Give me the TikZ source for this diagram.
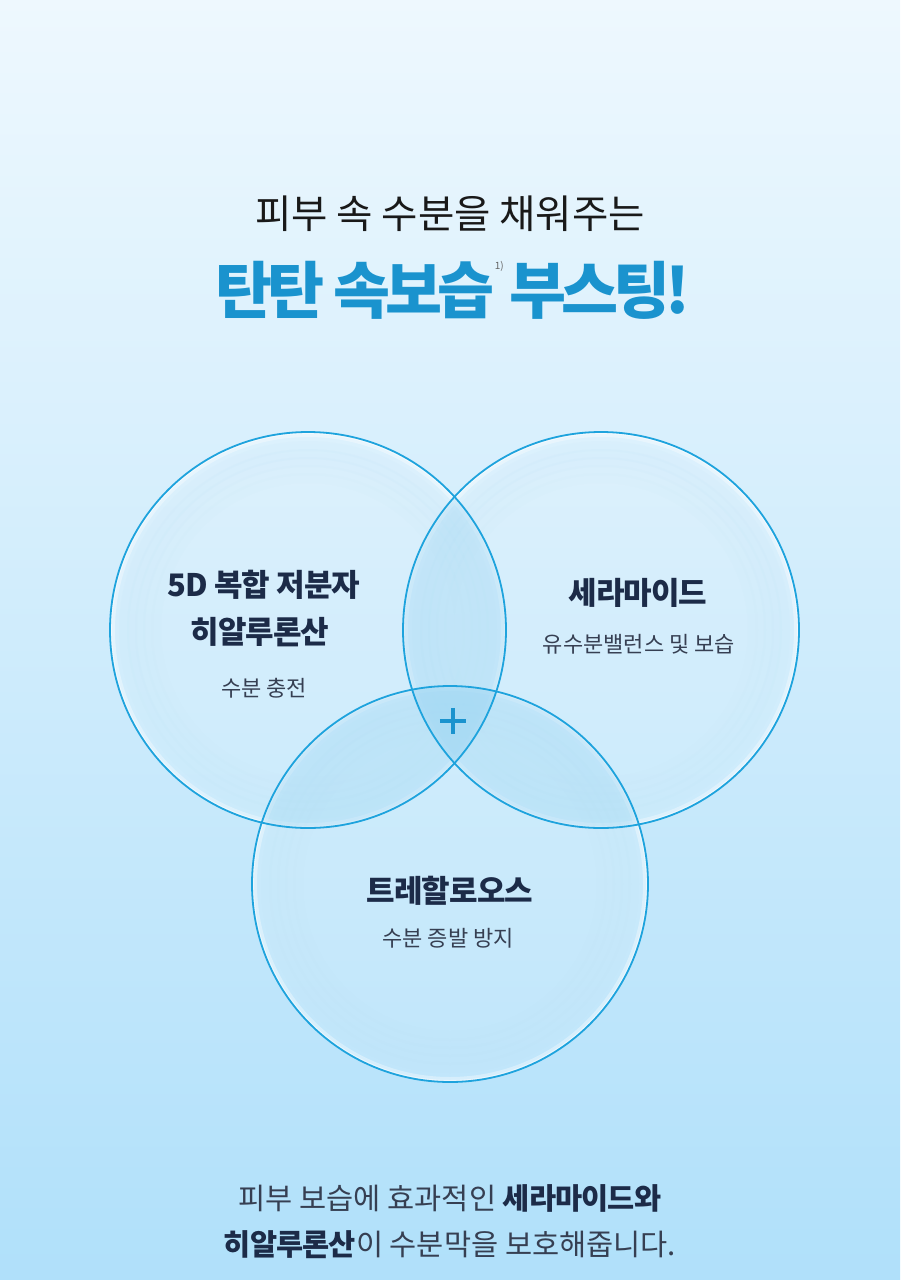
\documentclass[tikz,border=0pt]{standalone}
\usepackage{fontspec}
\newfontfamily\kr{Noto Sans CJK KR}
\newfontfamily\krb{Noto Sans CJK KR Bold}
\newfontfamily\krhead{Noto Sans CJK KR Black}[LetterSpace=-3]
\newfontfamily\krblack{Noto Sans CJK KR Black}[LetterSpace=-8]
\definecolor{bgtop}{HTML}{EEF8FE}
\definecolor{bgmid}{HTML}{DCF1FC}
\definecolor{bgbot}{HTML}{B0E0FA}
\definecolor{ringblue}{HTML}{1EA3DD}
\definecolor{titleblue}{HTML}{1A93CE}
\definecolor{navy}{HTML}{1C2B48}
\definecolor{subgray}{HTML}{363F52}
\definecolor{lensblue}{HTML}{9CD6F4}
\definecolor{shadowblue}{HTML}{BFE4F6}
\tikzset{
  lens/.style={fill=lensblue, fill opacity=0.36},
  ringline/.style={draw=ringblue, line width=1.8pt},
  bigtitle/.style={text=titleblue, font=\krblack\fontsize{62}{70}\selectfont, inner sep=0pt},
  headlbl/.style={text=navy, font=\krhead\fontsize{31}{36}\selectfont, inner sep=0pt},
  sublbl/.style={text=subgray, font=\kr\fontsize{22}{26}\selectfont, inner sep=0pt},
  bottomtxt/.style={text=subgray, font=\kr\fontsize{29.5}{34}\selectfont, inner sep=0pt},
}
\begin{document}
\begin{tikzpicture}[x=1pt,y=-1pt]
\useasboundingbox (0,0) rectangle (900,1280);
\shade[top color=bgtop, middle color=bgmid, bottom color=bgbot] (0,0) rectangle (900,1280);
\def\R{198}
\coordinate (cL) at (308,630);
\coordinate (cR) at (601,630);
\coordinate (cB) at (450,884);
% soft interiors
\foreach \c in {cL,cR,cB}{
  \begin{scope}
    \clip (\c) circle (\R);
    \fill[white, opacity=0.10] (\c) circle (\R);
    \foreach \d/\o in {14/0.10, 22/0.12, 30/0.10, 38/0.07, 46/0.05}{
      \draw[shadowblue, opacity=\o, line width=10pt] (\c) circle (\R-\d);
    }
    \draw[white, opacity=0.35, line width=10pt] (\c) circle (\R);
    \draw[white, opacity=0.5, line width=4pt] (\c) circle (\R);
  \end{scope}
}
% lens overlaps
\begin{scope}
  \clip (cL) circle (\R);
  \fill[lens] (cR) circle (\R);
  \fill[lens] (cB) circle (\R);
\end{scope}
\begin{scope}
  \clip (cR) circle (\R);
  \fill[lens] (cB) circle (\R);
\end{scope}
% outlines
\foreach \c in {cL,cR,cB}{ \draw[ringline] (\c) circle (\R); }
% titles
\node[text=black!90, font=\kr\fontsize{39.5}{44}\selectfont, inner sep=0pt] (t1) at (450,214) {피부 속 수분을 채워주는};
\node[bigtitle, anchor=base east] (t2a) at (504,313) {탄탄 속보습\textcolor{black!60}{\raisebox{44pt}{\kr\fontsize{10}{12}\selectfont 1)}}};
\node[bigtitle, anchor=base west] (t2b) at (509,313) {부스팅!};
% labels
\node[headlbl] (l1) at (264,585) {5D 복합 저분자};
\node[headlbl] (l2) at (260,632) {히알루론산};
\node[sublbl] (l3) at (264,688) {수분 충전};
\node[headlbl] (r1) at (638,593) {세라마이드};
\node[sublbl] (r2) at (639,644) {유수분밸런스 및 보습};
\node[headlbl] (b1) at (450,891) {트레할로오스};
\node[sublbl] (b2) at (448,938) {수분 증발 방지};
% plus
\node[inner sep=0pt, minimum size=26pt] (plus) at (453,721) {};
\draw[titleblue, line width=4pt] (plus.west) -- (plus.east);
\draw[titleblue, line width=4pt] (plus.north) -- (plus.south);
% bottom text
\node[bottomtxt] (m1) at (450,1198) {피부 보습에 효과적인 {\krhead\color{navy}세라마이드와}};
\node[bottomtxt] (m2) at (450,1245) {{\krhead\color{navy}히알루론산}이 수분막을 보호해줍니다.};
\end{tikzpicture}
\end{document}
